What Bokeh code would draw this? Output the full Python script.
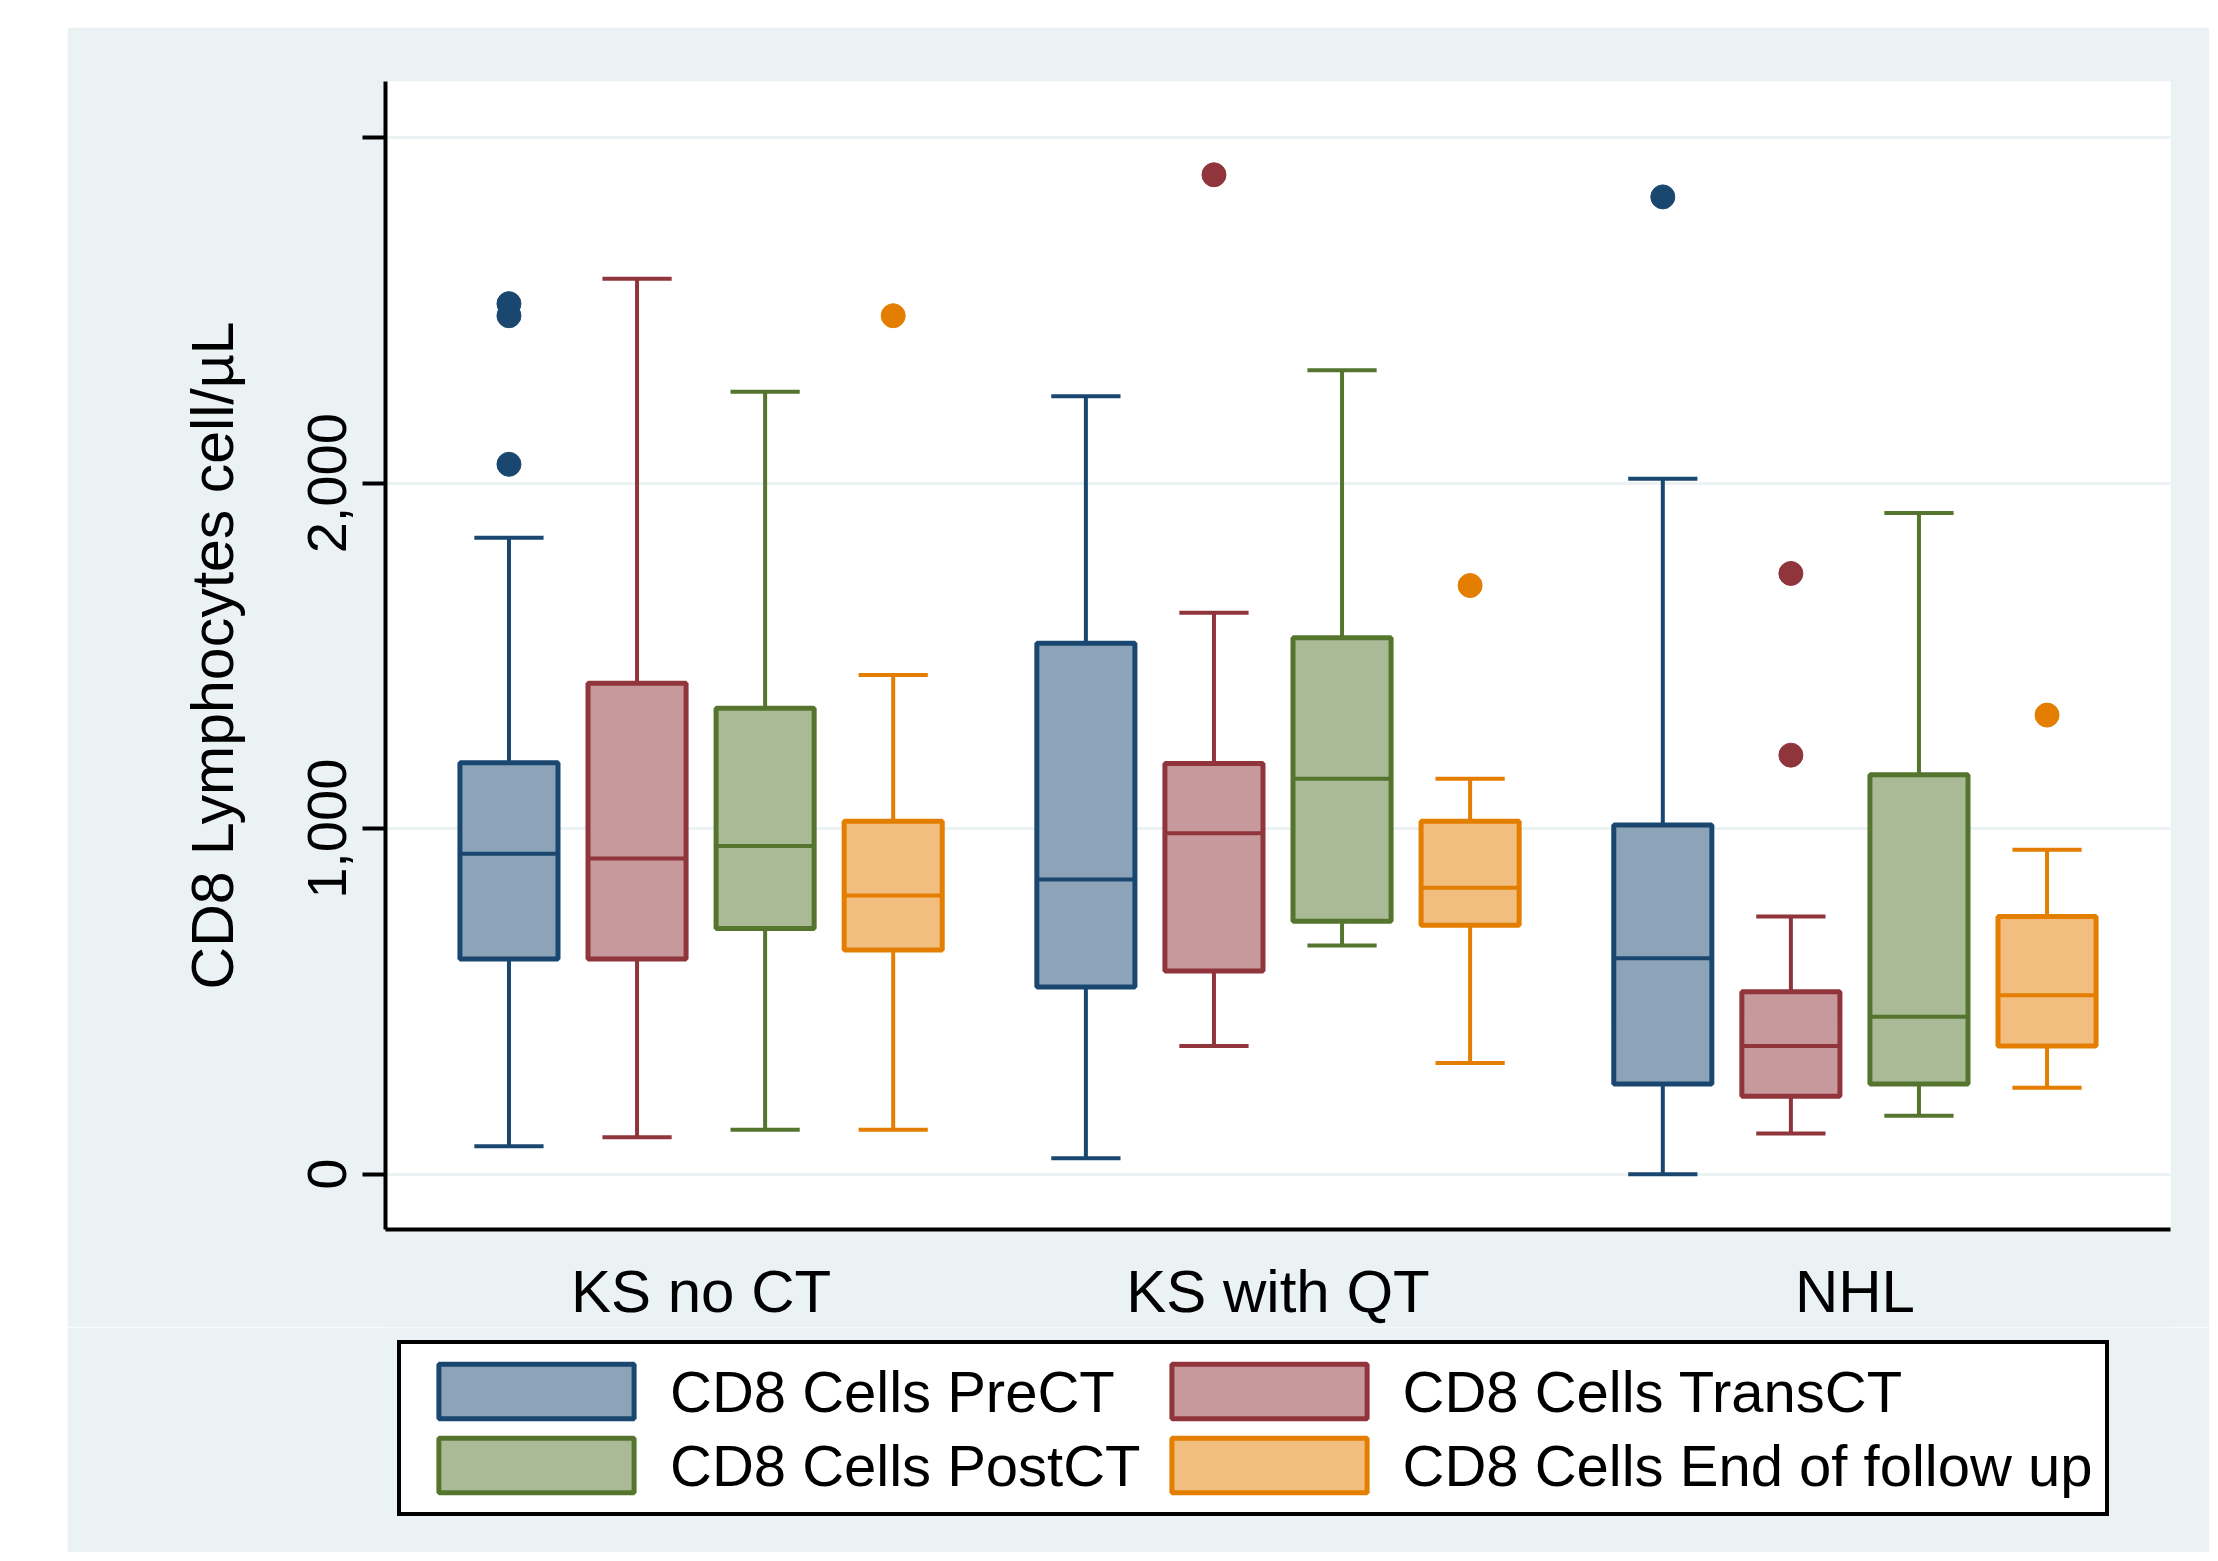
from bokeh.plotting import figure
from bokeh.models import FixedTicker, Legend, LegendItem, Range1d, Spacer
from bokeh.layouts import column, row
from bokeh.embed import file_html
from bokeh.resources import INLINE

groups = ["KS no CT", "KS with QT", "NHL"]
series = ["CD8 Cells PreCT", "CD8 Cells TransCT", "CD8 Cells PostCT", "CD8 Cells End of follow up"]

# values per series, one entry per group (KS no CT, KS with QT, NHL)
pre_lower = [81, 46, 0]
pre_q1 = [623, 542, 261]
pre_median = [928, 853, 625]
pre_q3 = [1191, 1537, 1011]
pre_upper = [1842, 2252, 2013]
pre_outliers = [[2055, 2485, 2520], [], [2829]]

trans_lower = [107, 371, 118]
trans_q1 = [623, 588, 226]
trans_median = [914, 987, 371]
trans_q3 = [1421, 1189, 528]
trans_upper = [2592, 1625, 746]
trans_outliers = [[], [2893], [1213, 1739]]

post_lower = [129, 662, 169]
post_q1 = [711, 732, 261]
post_median = [950, 1145, 456]
post_q3 = [1349, 1553, 1156]
post_upper = [2265, 2327, 1914]
post_outliers = [[], [], []]

end_lower = [129, 322, 250]
end_q1 = [649, 721, 371]
end_median = [807, 829, 518]
end_q3 = [1022, 1022, 746]
end_upper = [1445, 1145, 939]
end_outliers = [[2485], [1704], [1329]]

y_ticks = [0, 1000, 2000, 3000]
y_tick_labels = ["0", "1,000", "2,000", ""]

line_colors = ["#1a476f", "#90353b", "#55752f", "#e37e00"]
fill_colors = ["#8da3b7", "#c8999c", "#aaba97", "#f1be7f"]

stats = [
    (pre_lower, pre_q1, pre_median, pre_q3, pre_upper, pre_outliers),
    (trans_lower, trans_q1, trans_median, trans_q3, trans_upper, trans_outliers),
    (post_lower, post_q1, post_median, post_q3, post_upper, post_outliers),
    (end_lower, end_q1, end_median, end_q3, end_upper, end_outliers),
]

FONT = "Liberation Sans"
BG = "#eaf2f3"
W = 2142

p = figure(width=W, height=1300, output_backend="svg", toolbar_location=None,
           x_range=Range1d(-0.547, 2.547), y_range=Range1d(-160, 3163),
           min_border_left=318, min_border_right=39, min_border_top=54, min_border_bottom=90)
p.background_fill_color = "white"
p.border_fill_color = BG
p.outline_line_color = None

box_w = 0.17
cap_w = 0.12
step = 0.222
for k, (lo, q1, med, q3, up, outs) in enumerate(stats):
    xs = [g + (k - 1.5) * step for g in range(len(groups))]
    lc, fc = line_colors[k], fill_colors[k]
    p.segment(x0=xs, y0=q3, x1=xs, y1=up, line_color=lc, line_width=4)
    p.segment(x0=xs, y0=lo, x1=xs, y1=q1, line_color=lc, line_width=4)
    p.segment(x0=[x - cap_w / 2 for x in xs], y0=up, x1=[x + cap_w / 2 for x in xs], y1=up,
              line_color=lc, line_width=4)
    p.segment(x0=[x - cap_w / 2 for x in xs], y0=lo, x1=[x + cap_w / 2 for x in xs], y1=lo,
              line_color=lc, line_width=4)
    p.vbar(x=xs, width=box_w, bottom=q1, top=q3, fill_color=fc, line_color=lc, line_width=5)
    p.segment(x0=[x - box_w / 2 for x in xs], y0=med, x1=[x + box_w / 2 for x in xs], y1=med,
              line_color=lc, line_width=4)
    ox, oy = [], []
    for g, vals in enumerate(outs):
        for v in vals:
            ox.append(xs[g])
            oy.append(v)
    if ox:
        p.scatter(x=ox, y=oy, size=24, fill_color=lc, line_color=lc)

p.xgrid.visible = False
p.ygrid.ticker = FixedTicker(ticks=y_ticks)
p.ygrid.grid_line_color = BG
p.ygrid.grid_line_width = 3

p.yaxis.ticker = FixedTicker(ticks=y_ticks)
p.yaxis.major_label_overrides = {t: l for t, l in zip(y_ticks, y_tick_labels)}
p.yaxis.major_label_orientation = "vertical"
p.yaxis.axis_label = "CD8 Lymphocytes cell/µL"
p.yaxis.axis_label_text_font = FONT
p.yaxis.axis_label_text_font_size = "59px"
p.yaxis.axis_label_text_font_style = "normal"
p.yaxis.axis_label_text_color = "black"
p.yaxis.axis_label_standoff = 60
p.yaxis.major_label_text_font = FONT
p.yaxis.major_label_text_font_size = "56px"
p.yaxis.major_label_text_color = "black"
p.yaxis.major_label_standoff = 16
p.yaxis.axis_line_width = 4
p.yaxis.axis_line_color = "black"
p.yaxis.major_tick_line_width = 4
p.yaxis.major_tick_line_color = "black"
p.yaxis.major_tick_out = 23
p.yaxis.major_tick_in = 0
p.yaxis.minor_tick_line_color = None

p.xaxis.ticker = FixedTicker(ticks=[0, 1, 2])
p.xaxis.major_label_overrides = {i: g for i, g in enumerate(groups)}
p.xaxis.major_label_text_font = FONT
p.xaxis.major_label_text_font_size = "60px"
p.xaxis.major_label_text_color = "black"
p.xaxis.major_label_standoff = 22
p.xaxis.major_tick_line_color = None
p.xaxis.minor_tick_line_color = None
p.xaxis.axis_line_width = 4
p.xaxis.axis_line_color = "black"

# legend panel below the plot (its frame is aligned with the plot's frame)
lg = figure(width=W, height=225, output_backend="svg", toolbar_location=None,
            x_range=Range1d(0, 1), y_range=Range1d(0, 1),
            min_border_left=318, min_border_right=39, min_border_top=0, min_border_bottom=0)
lg.axis.visible = False
lg.grid.visible = False
lg.background_fill_color = BG
lg.border_fill_color = BG
lg.outline_line_color = None
swatches = []
for k in range(len(series)):
    # tiny hidden bars that sit underneath the legend box: only their swatches show
    swatches.append(lg.vbar(x=[0.5], width=0.005, bottom=[0.5], top=[0.52], fill_color=fill_colors[k],
                            line_color=line_colors[k], line_width=5))

legend = Legend(items=[LegendItem(label=s, renderers=[r]) for s, r in zip(series, swatches)],
                location=(12, 36), orientation="horizontal", ncols=2)
legend.glyph_width = 244
legend.glyph_height = 68
legend.label_standoff = 12
legend.spacing = 6
legend.padding = 13
legend.margin = 0
legend.border_line_color = "black"
legend.border_line_width = 4
legend.border_line_alpha = 1
legend.background_fill_color = "white"
legend.background_fill_alpha = 1
legend.label_text_font = FONT
legend.label_text_font_size = "58px"
legend.label_text_color = "black"
legend.label_text_baseline = "middle"
lg.add_layout(legend, "center")

layout = column(Spacer(height=27), row(Spacer(width=67), column(p, lg)))
open("out.html", "w").write(file_html(layout, INLINE))
